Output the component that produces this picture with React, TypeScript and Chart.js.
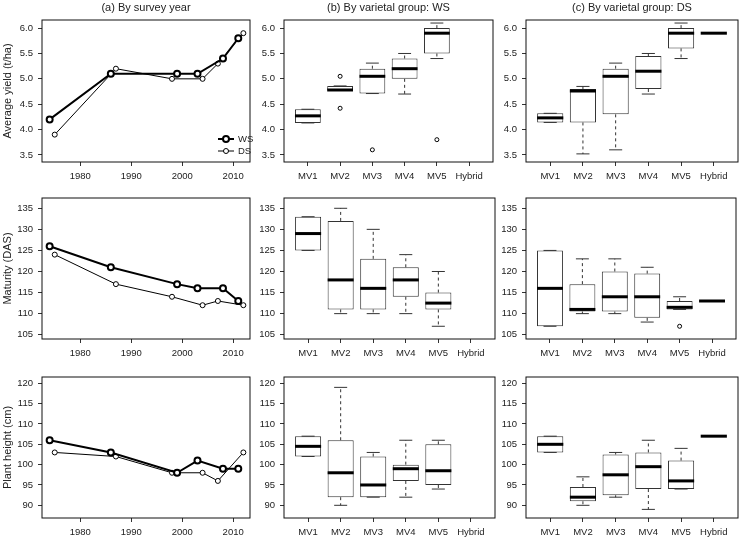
import React, { useEffect, useRef } from 'react';
import { Chart, registerables } from 'chart.js';
Chart.register(...registerables);

const FONT = "'Liberation Sans', Arial, Helvetica, sans-serif";
Chart.defaults.font.family = FONT;

// ---------- Data ----------
const CATS = ['MV1', 'MV2', 'MV3', 'MV4', 'MV5', 'Hybrid'];
const CAT_TICKS = [1, 2, 3, 4, 5, 6];
const YEAR_TICKS = [1980, 1990, 2000, 2010];
const YIELD_TICKS = [3.5, 4.0, 4.5, 5.0, 5.5, 6.0];
const MAT_TICKS = [105, 110, 115, 120, 125, 130, 135];
const HT_TICKS = [90, 95, 100, 105, 110, 115, 120];

const YEARS_WS = [1974, 1986, 1999, 2003, 2008, 2011];
const YEARS_DS = [1975, 1987, 1998, 2004, 2007, 2012];
const YIELD_WS = [4.2, 5.1, 5.1, 5.1, 5.4, 5.8];
const YIELD_DS = [3.9, 5.2, 5.0, 5.0, 5.3, 5.9];
const MAT_WS = [126, 121, 117, 116, 116, 113];
const MAT_DS = [124, 117, 114, 112, 113, 112];
const HT_WS = [106, 103, 98, 101, 99, 99];
const HT_DS = [103, 102, 98, 98, 96, 103];

// Box plots: yield, WS
const YW_LO = [4.13, 4.77, 4.71, 4.70, 5.40];
const YW_Q1 = [4.13, 4.77, 4.71, 5.00, 5.50];
const YW_MED = [4.27, 4.78, 5.05, 5.20, 5.90];
const YW_Q3 = [4.40, 4.86, 5.20, 5.40, 6.00];
const YW_HI = [4.40, 4.86, 5.31, 5.50, 6.10];
const YW_OUT_X = [2, 2, 3, 5];
const YW_OUT_Y = [5.05, 4.42, 3.6, 3.8];
// yield, DS
const YD_LO = [4.14, 3.52, 3.60, 4.70, 5.40, 5.90];
const YD_Q1 = [4.14, 4.14, 4.30, 4.80, 5.60, 5.90];
const YD_MED = [4.23, 4.76, 5.05, 5.15, 5.90, 5.90];
const YD_Q3 = [4.32, 4.80, 5.20, 5.45, 6.00, 5.90];
const YD_HI = [4.32, 4.85, 5.31, 5.50, 6.10, 5.90];
const YD_OUT_X: number[] = [];
const YD_OUT_Y: number[] = [];
// maturity, WS
const MW_LO = [125, 110, 110, 110, 107];
const MW_Q1 = [125, 111, 111, 114, 111];
const MW_MED = [129, 118, 116, 118, 112.5];
const MW_Q3 = [133, 132, 123, 121, 115];
const MW_HI = [133, 135, 130, 124, 120];
const MW_OUT_X: number[] = [];
const MW_OUT_Y: number[] = [];
// maturity, DS
const MD_LO = [107, 110, 110, 108, 111, 113];
const MD_Q1 = [107, 110.5, 110.5, 109, 111, 113];
const MD_MED = [116, 111, 114, 114, 111.5, 113];
const MD_Q3 = [125, 117, 120, 119.5, 113, 113];
const MD_HI = [125, 123, 123, 121, 114, 113];
const MD_OUT_X = [5];
const MD_OUT_Y = [107];
// height, WS
const HW_LO = [102, 90, 92, 92, 94];
const HW_Q1 = [102, 92, 92, 96, 95];
const HW_MED = [104.5, 98, 95, 99, 98.5];
const HW_Q3 = [107, 106, 102, 100, 105];
const HW_HI = [107, 119, 103, 106, 106];
const HW_OUT_X: number[] = [];
const HW_OUT_Y: number[] = [];
// height, DS
const HD_LO = [103, 90, 92, 89, 94, 107];
const HD_Q1 = [103, 91, 92.5, 94, 94, 107];
const HD_MED = [105, 92, 97.5, 99.5, 96, 107];
const HD_Q3 = [107, 94.5, 102.5, 103, 101, 107];
const HD_HI = [107, 97, 103, 106, 104, 107];
const HD_OUT_X: number[] = [];
const HD_OUT_Y: number[] = [];

// ---------- Layout ----------
const COLS = [
  { L: 42, R: 253 },
  { L: 284, R: 495 },
  { L: 526, R: 738 },
];
const ROWS = [
  { T: 20, B: 162, yMin: 3.36, yMax: 6.16, ticks: YIELD_TICKS, dec: 1, yTitle: 'Average yield (t/ha)' },
  { T: 198, B: 339, yMin: 103.98, yMax: 137.44, ticks: MAT_TICKS, dec: 0, yTitle: 'Maturity (DAS)' },
  { T: 377, B: 518, yMin: 86.88, yMax: 121.55, ticks: HT_TICKS, dec: 0, yTitle: 'Plant height (cm)' },
];
const TITLES = ['(a) By survey year', '(b) By varietal group: WS', '(c) By varietal group: DS'];

type BoxSet = { lo: number[]; q1: number[]; med: number[]; q3: number[]; hi: number[]; ox: number[]; oy: number[] };
type LineSet = { ws: number[]; ds: number[] };

const LINE_DATA: LineSet[] = [
  { ws: YIELD_WS, ds: YIELD_DS },
  { ws: MAT_WS, ds: MAT_DS },
  { ws: HT_WS, ds: HT_DS },
];
const BOX_DATA: BoxSet[][] = [
  [
    { lo: YW_LO, q1: YW_Q1, med: YW_MED, q3: YW_Q3, hi: YW_HI, ox: YW_OUT_X, oy: YW_OUT_Y },
    { lo: YD_LO, q1: YD_Q1, med: YD_MED, q3: YD_Q3, hi: YD_HI, ox: YD_OUT_X, oy: YD_OUT_Y },
  ],
  [
    { lo: MW_LO, q1: MW_Q1, med: MW_MED, q3: MW_Q3, hi: MW_HI, ox: MW_OUT_X, oy: MW_OUT_Y },
    { lo: MD_LO, q1: MD_Q1, med: MD_MED, q3: MD_Q3, hi: MD_HI, ox: MD_OUT_X, oy: MD_OUT_Y },
  ],
  [
    { lo: HW_LO, q1: HW_Q1, med: HW_MED, q3: HW_Q3, hi: HW_HI, ox: HW_OUT_X, oy: HW_OUT_Y },
    { lo: HD_LO, q1: HD_Q1, med: HD_MED, q3: HD_Q3, hi: HD_HI, ox: HD_OUT_X, oy: HD_OUT_Y },
  ],
];

const PAD_L = 42;
const PAD_R = 3;
const TICK_COLOR = '#333';
const TEXT_COLOR = '#222';
const TICK_FONT = 9.5;

function decorPlugin(title: string | null, legend: boolean) {
  return {
    id: 'decor',
    afterDraw(chart: any) {
      const { ctx, chartArea } = chart;
      const { left, top, right, bottom } = chartArea;
      ctx.save();
      ctx.strokeStyle = '#111';
      ctx.lineWidth = 1;
      ctx.strokeRect(left, top, right - left, bottom - top);
      if (title) {
        ctx.fillStyle = TEXT_COLOR;
        ctx.font = `11px ${FONT}`;
        ctx.textAlign = 'center';
        ctx.textBaseline = 'middle';
        ctx.fillText(title, (left + right) / 2, top - 12.5);
      }
      if (legend) {
        const items = [
          { label: 'WS', lw: 2, r: 3, y: bottom - 23 },
          { label: 'DS', lw: 1, r: 2.5, y: bottom - 11 },
        ];
        const x0 = right - 32;
        const x1 = right - 16;
        const xc = (x0 + x1) / 2;
        items.forEach((it) => {
          ctx.strokeStyle = '#000';
          ctx.lineWidth = it.lw;
          ctx.beginPath();
          ctx.moveTo(x0, it.y);
          ctx.lineTo(x1, it.y);
          ctx.stroke();
          ctx.beginPath();
          ctx.arc(xc, it.y, it.r, 0, Math.PI * 2);
          ctx.fillStyle = '#fff';
          ctx.fill();
          ctx.stroke();
          ctx.fillStyle = TEXT_COLOR;
          ctx.font = `9.5px ${FONT}`;
          ctx.textAlign = 'left';
          ctx.textBaseline = 'middle';
          ctx.fillText(it.label, x1 + 4, it.y);
        });
      }
      ctx.restore();
    },
  };
}

function boxPartsPlugin(b: BoxSet) {
  return {
    id: 'boxParts',
    afterDatasetsDraw(chart: any) {
      const xs = chart.scales.x;
      const ys = chart.scales.y;
      const ctx = chart.ctx;
      const unit = xs.getPixelForValue(2) - xs.getPixelForValue(1);
      const half = unit * 0.4;
      const cap = unit * 0.2;
      const seg = (x1: number, y1: number, x2: number, y2: number) => {
        ctx.beginPath();
        ctx.moveTo(x1, y1);
        ctx.lineTo(x2, y2);
        ctx.stroke();
      };
      ctx.save();
      ctx.lineCap = 'butt';
      b.med.forEach((m, i) => {
        const cx = xs.getPixelForValue(i + 1);
        const yLo = ys.getPixelForValue(b.lo[i]);
        const yQ1 = ys.getPixelForValue(b.q1[i]);
        const yQ3 = ys.getPixelForValue(b.q3[i]);
        const yHi = ys.getPixelForValue(b.hi[i]);
        const yM = ys.getPixelForValue(m);
        ctx.strokeStyle = '#333';
        ctx.lineWidth = 1;
        ctx.setLineDash([3, 3]);
        if (yHi < yQ3) seg(cx, yQ3, cx, yHi);
        if (yLo > yQ1) seg(cx, yQ1, cx, yLo);
        ctx.setLineDash([]);
        seg(cx - cap, yHi, cx + cap, yHi);
        seg(cx - cap, yLo, cx + cap, yLo);
        ctx.strokeStyle = '#000';
        ctx.lineWidth = 3;
        seg(cx - half, yM, cx + half, yM);
      });
      ctx.restore();
    },
  };
}

function Panel({ row, col }: { row: number; col: number }) {
  const ref = useRef<HTMLCanvasElement>(null);
  const r = ROWS[row];
  const c = COLS[col];
  const padT = row === 0 ? 20 : 12;
  const padB = row === 2 ? 22 : 24;
  const left = c.L - PAD_L;
  const top = r.T - padT;
  const width = c.R - c.L + PAD_L + PAD_R;
  const height = r.B - r.T + padT + padB;

  useEffect(() => {
    const isLine = col === 0;
    const xTicks = isLine ? YEAR_TICKS : CAT_TICKS;
    let datasets: any[];
    const plugins: any[] = [decorPlugin(row === 0 ? TITLES[col] : null, row === 0 && col === 0)];
    if (isLine) {
      const d = LINE_DATA[row];
      datasets = [
        {
          type: 'scatter',
          label: 'WS',
          data: YEARS_WS.map((x, i) => ({ x, y: d.ws[i] })),
          showLine: true,
          borderColor: '#000',
          borderWidth: 2,
          pointRadius: 3,
          pointBorderWidth: 2,
          pointBackgroundColor: '#fff',
          pointBorderColor: '#000',
        },
        {
          type: 'scatter',
          label: 'DS',
          data: YEARS_DS.map((x, i) => ({ x, y: d.ds[i] })),
          showLine: true,
          borderColor: '#000',
          borderWidth: 1,
          pointRadius: 2.5,
          pointBorderWidth: 1,
          pointBackgroundColor: '#fff',
          pointBorderColor: '#000',
        },
      ];
    } else {
      const b = BOX_DATA[row][col - 1];
      datasets = [
        {
          type: 'bar',
          data: b.q1.map((v, i) => ({ x: i + 1, y: [v, b.q3[i]] })),
          backgroundColor: '#fff',
          borderColor: '#333',
          borderWidth: 1,
          borderSkipped: false,
          barPercentage: 0.8,
          categoryPercentage: 1,
          grouped: false,
        },
        {
          type: 'scatter',
          data: b.ox.map((x, i) => ({ x, y: b.oy[i] })),
          pointRadius: 2,
          pointBorderWidth: 1,
          pointBorderColor: '#000',
          pointBackgroundColor: 'rgba(0,0,0,0)',
          showLine: false,
        },
      ];
      plugins.push(boxPartsPlugin(b));
    }

    const chart = new Chart(ref.current as HTMLCanvasElement, {
      type: isLine ? 'scatter' : 'bar',
      data: { datasets } as any,
      plugins,
      options: {
        responsive: false,
        animation: false,
        events: [],
        layout: { padding: { left: 0, top: padT, right: PAD_R, bottom: 0 } },
        plugins: { legend: { display: false }, tooltip: { enabled: false }, title: { display: false } },
        scales: {
          x: {
            type: 'linear',
            offset: false,
            min: isLine ? 1972.5 : 0.26,
            max: isLine ? 2013.3 : 6.74,
            border: { display: false },
            grid: { display: true, drawOnChartArea: false, drawTicks: true, tickLength: 4, color: TICK_COLOR, offset: false },
            ticks: {
              font: { size: TICK_FONT, family: FONT },
              color: TEXT_COLOR,
              padding: 5,
              maxRotation: 0,
              autoSkip: false,
              callback: (v: any) => (isLine ? String(v) : CATS[Number(v) - 1]),
            },
            afterBuildTicks: (s: any) => {
              s.ticks = xTicks.map((v) => ({ value: v }));
            },
            afterFit: (s: any) => {
              s.height = padB;
              s.paddingLeft = 0;
              s.paddingRight = 0;
            },
          },
          y: {
            type: 'linear',
            min: r.yMin,
            max: r.yMax,
            beginAtZero: false,
            border: { display: false },
            grid: { display: true, drawOnChartArea: false, drawTicks: true, tickLength: 4, color: TICK_COLOR },
            ticks: {
              font: { size: TICK_FONT, family: FONT },
              color: TEXT_COLOR,
              padding: 5,
              autoSkip: false,
              callback: (v: any) => Number(v).toFixed(r.dec),
            },
            title: {
              display: col === 0,
              text: r.yTitle,
              font: { size: 11, family: FONT },
              color: TEXT_COLOR,
              padding: { top: 1.5, bottom: 0 },
            },
            afterBuildTicks: (s: any) => {
              s.ticks = r.ticks.map((v) => ({ value: v }));
            },
            afterFit: (s: any) => {
              s.width = PAD_L;
              s.paddingTop = 0;
              s.paddingBottom = 0;
            },
          },
        },
      } as any,
    });
    return () => chart.destroy();
  }, []);

  return (
    <canvas
      ref={ref}
      width={width}
      height={height}
      style={{ position: 'absolute', left, top, width, height }}
    />
  );
}

export default function App() {
  const panels: React.ReactElement[] = [];
  for (let row = 0; row < 3; row++) {
    for (let col = 0; col < 3; col++) {
      panels.push(<Panel key={`${row}-${col}`} row={row} col={col} />);
    }
  }
  return (
    <div style={{ position: 'absolute', left: 0, top: 0, width: 741, height: 541, background: '#fff', overflow: 'hidden' }}>
      {panels}
    </div>
  );
}
